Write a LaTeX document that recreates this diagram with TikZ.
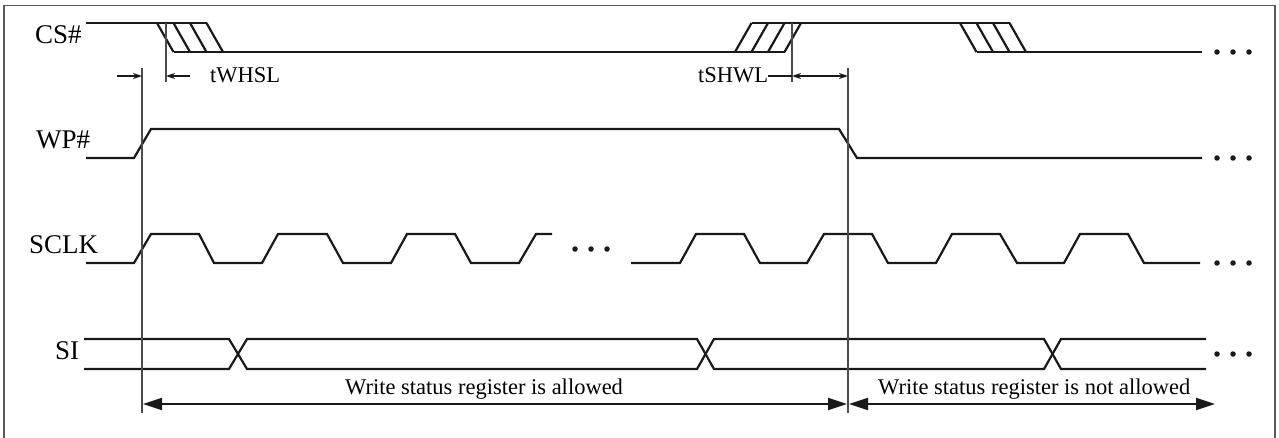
\documentclass[tikz,border=0pt]{standalone}
\usepackage{fontspec}
\setmainfont{Liberation Serif}
\usetikzlibrary{arrows.meta}
\tikzset{
  sig/.style={line width=2.2pt, black!90},
  refline/.style={line width=1.1pt, black!70},
  frame/.style={line width=1.1pt, black!65},
  bigarrow/.style={line width=2pt, black!90, {Triangle[length=19pt,width=12pt]}-{Triangle[length=19pt,width=12pt]}},
  smallarrow/.style={line width=1.3pt, black!90, -{Stealth[length=9pt,width=6pt]}},
  siglabel/.style={anchor=base west, inner sep=0pt, font=\fontsize{27}{30}\selectfont},
  annot/.style={anchor=base west, inner sep=0pt, font=\fontsize{22.5}{26}\selectfont},
  dot/.style={circle, fill=black!90, inner sep=0pt, minimum size=5.5pt},
}
\begin{document}
\begin{tikzpicture}[x=1pt,y=-1pt]
\useasboundingbox (0,0) rectangle (1279,437);
% frame (bottom edge lies outside the picture)
\draw[frame] (4,445) -- (4,5.5) -- (1275,5.5) -- (1275,445);

% labels
\node[siglabel] (lcs)   at (35,43)  {CS\#};
\node[siglabel] (lwp)   at (36,148) {WP\#};
\node[siglabel] (lsclk) at (29,253) {SCLK};
\node[siglabel] (lsi)   at (55,359) {SI};

% ---------- CS# ----------
\draw[sig] (86,23) -- (206.5,23);
\foreach \x in {157,173.5,190,206.5} \draw[sig] (\x,23) -- ({\x+16.5},52);
\draw[sig] (173.5,52) -- (784.5,52);
\foreach \x in {735,751.5,768,784.5} \draw[sig] (\x,52) -- ({\x+16.5},23);
\draw[sig] (751.5,23) -- (1009.5,23);
\foreach \x in {960,976.5,993,1009.5} \draw[sig] (\x,23) -- ({\x+16.5},52);
\draw[sig] (976.5,52) -- (1202,52);
\foreach \x/\n in {1217/a,1233/b,1249/c} \node[dot] (cs\n) at (\x,52) {};

% ---------- WP# ----------
\draw[sig] (86,158) -- (134,158) -- (151,129) -- (839,129) -- (857,158) -- (1202,158);
\foreach \x/\n in {1217/a,1233/b,1249/c} \node[dot] (wp\n) at (\x,158) {};

% ---------- SCLK ----------
\draw[sig] (86,263) -- (134,263) -- (151,234) -- (199,234) -- (214,263) -- (262,263)
  -- (278,234) -- (327,234) -- (343,263) -- (391,263) -- (407,234) -- (455,234)
  -- (471,263) -- (519,263) -- (536,234) -- (552,234);
\foreach \x/\n in {575/a,591/b,607/c} \node[dot] (sm\n) at (\x,249) {};
\draw[sig] (631,263) -- (680,263) -- (696,234) -- (744,234) -- (760,263) -- (807,263)
  -- (824,234) -- (872,234) -- (888,263) -- (936,263) -- (952,234) -- (1000,234)
  -- (1017,263) -- (1064,263) -- (1080,234) -- (1128,234) -- (1144,263) -- (1200,263);
\foreach \x/\n in {1217/a,1233/b,1249/c} \node[dot] (sc\n) at (\x,263) {};

% ---------- SI ----------
\draw[sig] (84,339) -- (229,339) -- (247,369) -- (697,369) -- (714,339) -- (1044,339) -- (1061,369) -- (1206,369);
\draw[sig] (84,369) -- (229,369) -- (247,339) -- (697,339) -- (714,369) -- (1044,369) -- (1061,339) -- (1206,339);
\foreach \x/\n in {1217/a,1233/b,1249/c} \node[dot] (si\n) at (\x,354) {};

% ---------- reference lines ----------
\coordinate (v1t) at (142,68);  \coordinate (v1b) at (142,413);
\coordinate (v2t) at (166,23);  \coordinate (v2b) at (166,82);
\coordinate (v3t) at (792,23);  \coordinate (v3b) at (792,82);
\coordinate (v4t) at (848,68);  \coordinate (v4b) at (848,413);
\draw[refline] (v1t) -- (v1b);
\draw[refline] (v2t) -- (v2b);
\draw[refline] (v3t) -- (v3b);
\draw[refline] (v4t) -- (v4b);

% ---------- timing annotations ----------
\node[annot] (twhsl) at (210,82) {tWHSL};
\node[annot] (tshwl) at (698,82) {tSHWL};
\coordinate (a1s) at (117,76); \coordinate (a1e) at (142,76);
\coordinate (a2s) at (190,76); \coordinate (a2e) at (166,76);
\draw[smallarrow] (a1s) -- (a1e);
\draw[smallarrow] (a2s) -- (a2e);
\coordinate (t3) at (792,76); \coordinate (t4) at (848,76);
\draw[line width=1.3pt, black!90] (tshwl.east |- t3) -- (t3);
\draw[line width=1.3pt, black!90, {Stealth[length=9pt,width=6pt]}-{Stealth[length=9pt,width=6pt]}] (t3) -- (t4);

% ---------- bottom ranges ----------
\coordinate (b1) at (143,404); \coordinate (b2) at (847,404);
\coordinate (b3) at (849,404); \coordinate (b4) at (1215,404);
\draw[bigarrow] (b1) -- (b2);
\draw[bigarrow] (b3) -- (b4);
\node[annot] (allowed) at (345,394) {Write status register is allowed};
\node[annot] (notallowed) at (878,394) {Write status register is not allowed};
\end{tikzpicture}
\end{document}
